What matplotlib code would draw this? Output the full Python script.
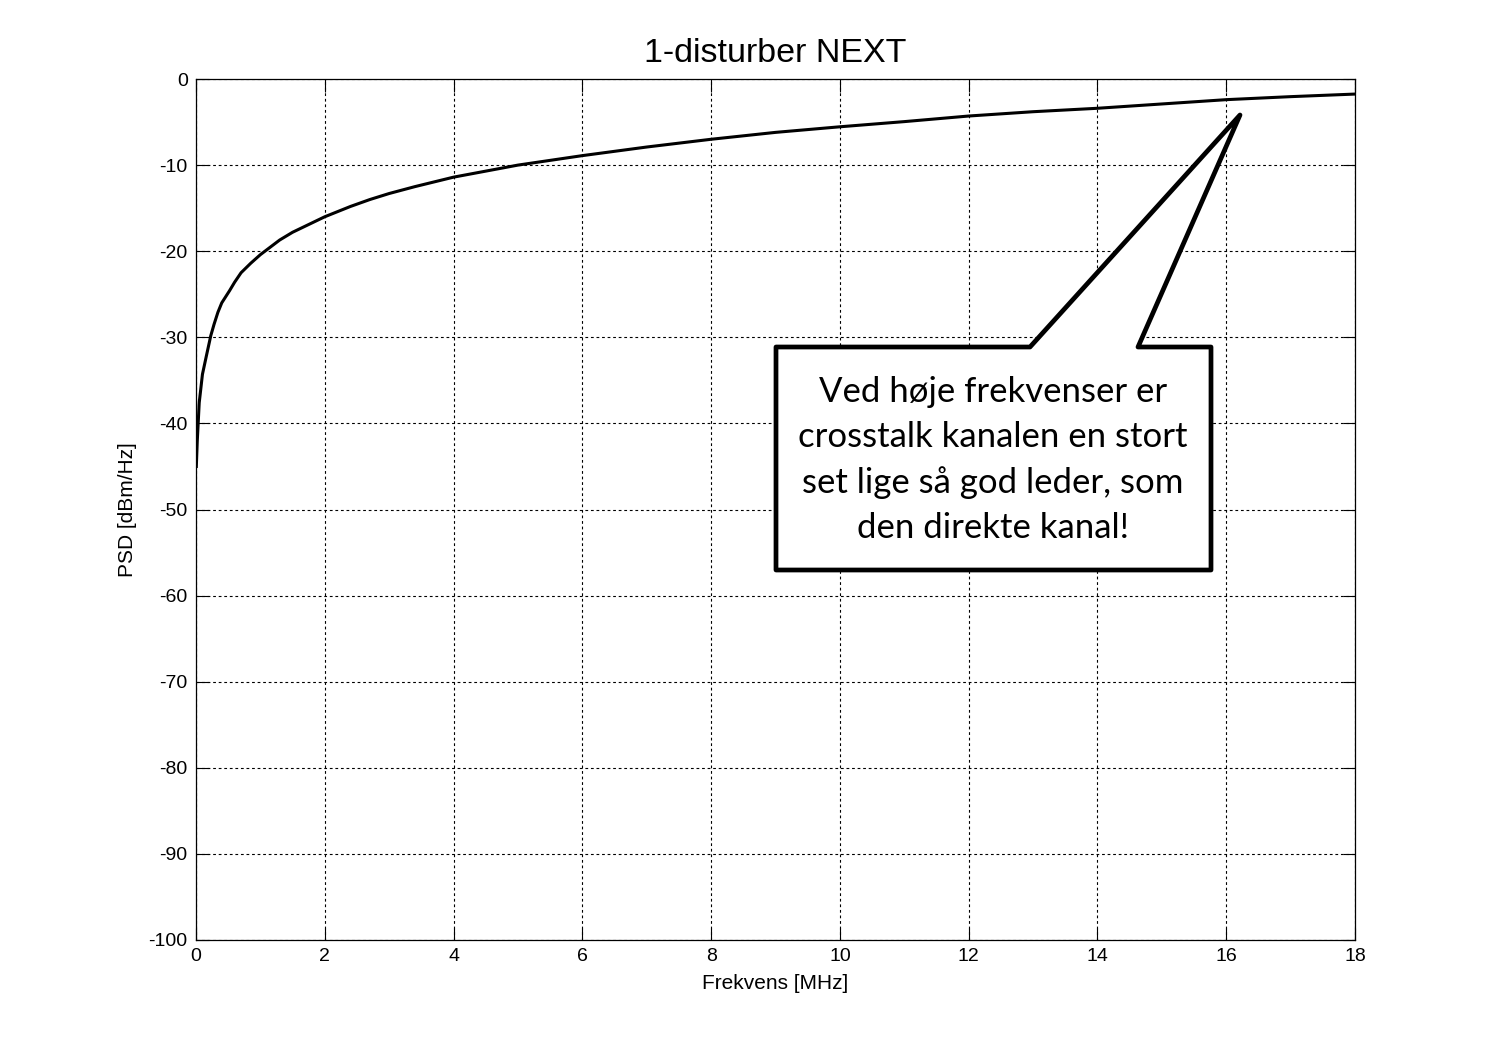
import matplotlib
matplotlib.use("Agg")
import matplotlib.pyplot as plt
from matplotlib.patches import Polygon

plt.rcParams["axes.unicode_minus"] = False

# values
freq_mhz = [0.005, 0.02, 0.05, 0.10, 0.16, 0.23, 0.28, 0.34, 0.40, 0.52, 0.60, 0.70,
            0.85, 1.0, 1.3, 1.5, 1.75, 2.0, 2.4, 2.7, 3.0, 3.4, 4.0, 5.0, 6.0, 7.0,
            8.0, 9.0, 10.0, 11.0, 12.0, 13.0, 14.0, 15.0, 16.0, 17.0, 18.0]
psd_dbm = [-45.0, -42.0, -37.6, -34.3, -32.2, -29.8, -28.5, -27.1, -26.0, -24.6, -23.6, -22.5,
           -21.4, -20.4, -18.7, -17.8, -16.9, -16.0, -14.8, -14.0, -13.3, -12.5, -11.4, -10.0,
           -8.9, -7.9, -7.0, -6.2, -5.55, -4.95, -4.3, -3.8, -3.4, -2.9, -2.4, -2.05, -1.75]
x_ticks = list(range(0, 19, 2))
y_ticks = list(range(-100, 1, 10))

title = "1-disturber NEXT"
callout = ("Ved høje frekvenser er\ncrosstalk kanalen en stort\n"
           "set lige så god leder, som\nden direkte kanal!")

W, H = 1498, 1059
fig = plt.figure(figsize=(W / 100, H / 100), dpi=100)
ax = fig.add_axes([196 / W, 1 - 940 / H, (1355 - 196) / W, (940 - 79) / H])

ax.plot(freq_mhz, psd_dbm, color="black", lw=2.2)
ax.set_xlim(0, 18)
ax.set_ylim(-100, 0)
ax.set_xticks(x_ticks)
ax.set_yticks(y_ticks)
ax.grid(True, color="black", linestyle=(0, (2.5, 2.5)), linewidth=0.8)
ax.tick_params(direction="in", length=9, width=0.8, top=True, right=True,
               labelsize=14, pad=6)
for sp in ax.spines.values():
    sp.set_linewidth(0.9)

fnt = "Liberation Sans"
for lbl in ax.get_xticklabels() + ax.get_yticklabels():
    lbl.set_fontfamily(fnt)
ax.set_title(title, fontsize=24.5, fontfamily=fnt, pad=12)
ax.set_xlabel("Frekvens [MHz]", fontsize=15, fontfamily=fnt, labelpad=6)
ax.set_ylabel("PSD [dBm/Hz]", fontsize=15, fontfamily=fnt, labelpad=8)

# speech-bubble callout, drawn in figure pixels
pts = [(776, 347), (1030, 347), (1240, 115), (1138, 347), (1211, 347),
       (1211, 570), (776, 570)]
poly = Polygon([(x / W, 1 - y / H) for x, y in pts], closed=True,
               transform=fig.transFigure, facecolor="white", edgecolor="black",
               linewidth=3.4, joinstyle="round", zorder=5)
fig.add_artist(poly)
fig.text(993 / W, 1 - 460 / H, callout, ha="center", va="center", fontsize=25,
         fontfamily="Lato", linespacing=1.5, zorder=6)

fig.savefig("out.png", dpi=100)
